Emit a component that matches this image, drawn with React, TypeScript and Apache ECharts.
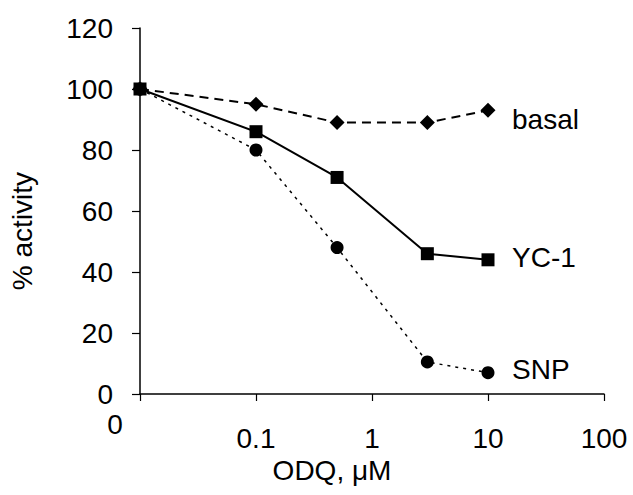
import React, { useEffect, useRef } from "react";
import * as echarts from "echarts";

const seriesNames = ["basal", "YC-1", "SNP"];
const odq = [0.01, 0.1, 0.5, 3, 10]; // 0.01 plotted at the "0" position
const basal = [100, 95, 89, 89, 93];
const yc1 = [100, 86, 71, 46, 44];
const snp = [100, 80, 48, 10.5, 7];
const xTicks = [0.01, 0.1, 1, 10, 100];
const xTickLabels = ["0", "0.1", "1", "10", "100"];

const FONT = "Liberation Sans, Arial, sans-serif";
const FS = 28;

export default function App() {
  const ref = useRef<HTMLDivElement>(null);
  useEffect(() => {
    if (!ref.current) return;
    const chart = echarts.init(ref.current, undefined, { renderer: "svg" });
    const mk = (vals: number[]) => odq.map((x, i) => [x, vals[i]]);
    const common = {
      type: "line",
      color: "#000",
      symbolSize: 13,
      clip: false,
      z: 3,
    };
    const lbl = { fontSize: FS, color: "#000", fontFamily: FONT };
    chart.setOption({
      animation: false,
      backgroundColor: "#fff",
      textStyle: { fontFamily: FONT },
      grid: { left: 137, right: 29, top: 28, bottom: 101 },
      xAxis: {
        type: "log",
        logBase: 10,
        min: 0.01,
        max: 100,
        name: "ODQ, \u03bcM",
        nameLocation: "middle",
        nameGap: 59,
        nameTextStyle: { ...lbl, padding: [0, 80, 0, 0] },
        axisLine: { lineStyle: { color: "#000", width: 1.5 } },
        axisTick: { show: true, length: 7, lineStyle: { color: "#000", width: 1.2 } },
        minorTick: { show: false },
        splitLine: { show: false },
        axisLabel: {
          ...lbl,
          margin: 30,
          formatter: (v: number) => {
            const idx = xTicks.findIndex((t) => Math.abs(Math.log10(t) - Math.log10(v)) < 1e-6);
            if (idx === 0) return "{z|" + xTickLabels[0] + "}";
            return idx >= 0 ? xTickLabels[idx] : "";
          },
          rich: {
            z: { ...lbl, padding: [0, 50, 0, 0], lineHeight: 0 },
          },
        },
      },
      yAxis: {
        type: "value",
        min: 0,
        max: 120,
        interval: 20,
        name: "% activity",
        nameLocation: "middle",
        nameGap: 104,
        nameRotate: 90,
        nameTextStyle: { ...lbl, padding: [0, 40, 0, 0] },
        axisLine: { show: true, lineStyle: { color: "#000", width: 1.5 } },
        axisTick: { show: true, length: 8, lineStyle: { color: "#000", width: 1.2 } },
        splitLine: { show: false },
        axisLabel: { ...lbl, margin: 27 },
      },
      series: [
        {
          ...common,
          name: seriesNames[0],
          data: mk(basal),
          symbol: "diamond",
          symbolSize: 15,
          lineStyle: { color: "#000", width: 2, type: [9, 6] },
          itemStyle: { color: "#000" },
          endLabel: { show: true, formatter: seriesNames[0], ...lbl, distance: 24, offset: [0, 9] },
        },
        {
          ...common,
          name: seriesNames[1],
          data: mk(yc1),
          symbol: "rect",
          symbolSize: 13,
          lineStyle: { color: "#000", width: 2, type: "solid" },
          itemStyle: { color: "#000" },
          endLabel: { show: true, formatter: seriesNames[1], ...lbl, distance: 24, offset: [0, -2] },
        },
        {
          ...common,
          name: seriesNames[2],
          data: mk(snp),
          symbol: "circle",
          symbolSize: 13,
          lineStyle: { color: "#000", width: 1.5, type: [3, 5] },
          itemStyle: { color: "#000" },
          endLabel: { show: true, formatter: seriesNames[2], ...lbl, distance: 24, offset: [0, -3] },
        },
      ],
    });
    return () => chart.dispose();
  }, []);
  return <div ref={ref} style={{ width: 633, height: 495, position: "absolute", left: 0, top: 0 }} />;
}
